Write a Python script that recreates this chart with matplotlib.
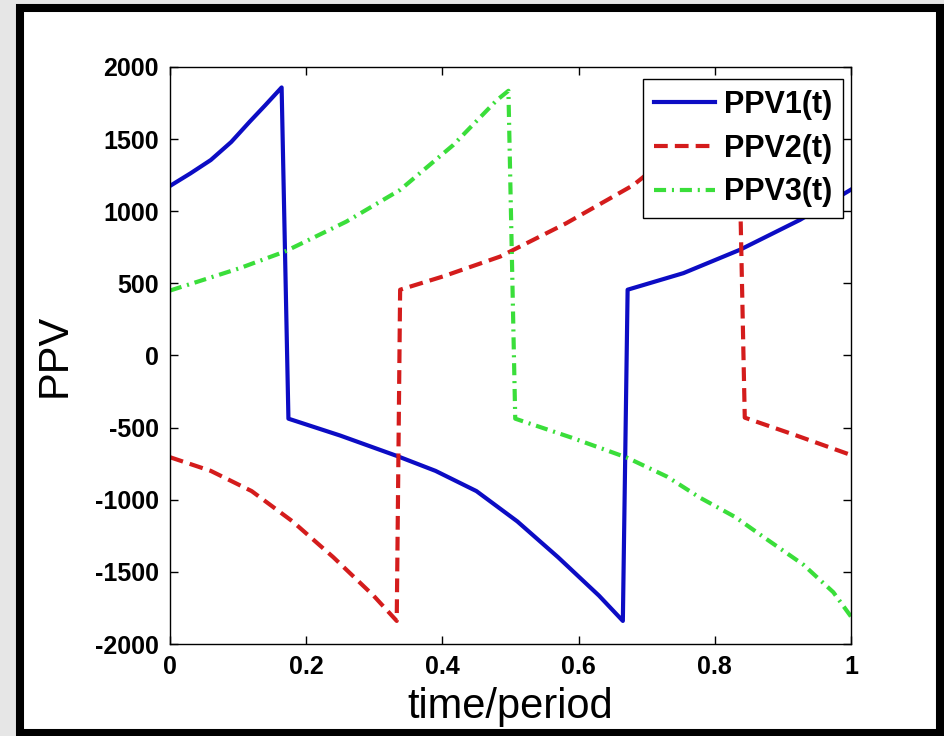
import matplotlib
matplotlib.use("Agg")
import matplotlib.pyplot as plt
from matplotlib.patches import Rectangle

# values
t1 = [0, 0.03, 0.06, 0.09, 0.117, 0.14, 0.164, 0.174, 0.25, 0.333, 0.39, 0.45, 0.51, 0.57, 0.63, 0.665,
      0.672, 0.754, 0.837, 0.925, 1.0]
v1 = [1175, 1262, 1355, 1480, 1620, 1735, 1858, -438, -555, -696, -800, -940, -1150, -1399, -1665, -1840,
      456, 571, 733, 940, 1150]

t2 = [0, 0.06, 0.12, 0.18, 0.24, 0.299, 0.333, 0.338, 0.401, 0.485, 0.582, 0.68, 0.754, 0.818, 0.834,
      0.844, 0.92, 1.0]
v2 = [-705, -800, -940, -1150, -1399, -1665, -1840, 456, 548, 686, 917, 1180, 1459, 1770, 1845,
      -431, -555, -690]

t3 = [0, 0.103, 0.169, 0.259, 0.338, 0.416, 0.48, 0.497, 0.507, 0.59, 0.671, 0.73, 0.778, 0.83, 0.876,
      0.93, 0.974, 1.0]
v3 = [450, 606, 721, 928, 1148, 1459, 1770, 1835, -438, -570, -708, -840, -985, -1120, -1273,
      -1450, -1641, -1810]

labels = ["PPV1(t)", "PPV2(t)", "PPV3(t)"]
xticks = [0, 0.2, 0.4, 0.6, 0.8, 1]
xticklabels = ["0", "0.2", "0.4", "0.6", "0.8", "1"]
yticks = [-2000, -1500, -1000, -500, 0, 500, 1000, 1500, 2000]

plt.rcParams["font.family"] = ["Liberation Sans", "DejaVu Sans"]
plt.rcParams["axes.unicode_minus"] = False

fig = plt.figure(figsize=(9.44, 7.36), dpi=100, facecolor="#e6e6e6")
fig.patches.append(Rectangle((0.0212, 0.0041), 0.9746, 0.9844, transform=fig.transFigure,
                             facecolor="white", edgecolor="black", linewidth=5.8, zorder=-10))

ax = fig.add_axes([0.180, 0.125, 0.7215, 0.784])
ax.set_facecolor("white")

ax.plot(t1, v1, color="#0c0cc4", lw=3, label=labels[0])
ax.plot(t2, v2, color="#d41c1c", lw=3, dashes=(3.3, 1.7), label=labels[1])
ax.plot(t3, v3, color="#3ade3a", lw=3, dashes=(2.9, 1.4, 0.5, 1.4), label=labels[2])

ax.set_xlim(0, 1)
ax.set_ylim(-2000, 2000)
ax.set_xticks(xticks)
ax.set_xticklabels(xticklabels)
ax.set_yticks(yticks)
ax.set_yticklabels([str(v) for v in yticks])
ax.tick_params(direction="in", length=6, width=1, top=True, right=True,
               labelsize=18, pad=8)
for lab in ax.get_xticklabels() + ax.get_yticklabels():
    lab.set_fontweight("bold")
for sp in ax.spines.values():
    sp.set_linewidth(1)

ax.set_xlabel("time/period", fontsize=30)
ax.set_ylabel("PPV", fontsize=30)
ax.xaxis.set_label_coords(0.5, -0.074)
ax.yaxis.set_label_coords(-0.14, 0.5)

leg = ax.legend(loc="upper right", bbox_to_anchor=(0.988, 0.979), borderaxespad=0,
                fancybox=False, framealpha=1, edgecolor="black",
                prop={"size": 22, "weight": "bold"}, handlelength=2.0,
                handletextpad=0.3, labelspacing=0.45, borderpad=0.35)
leg.get_frame().set_linewidth(1)

fig.savefig("out.png", dpi=100, facecolor=fig.get_facecolor())
